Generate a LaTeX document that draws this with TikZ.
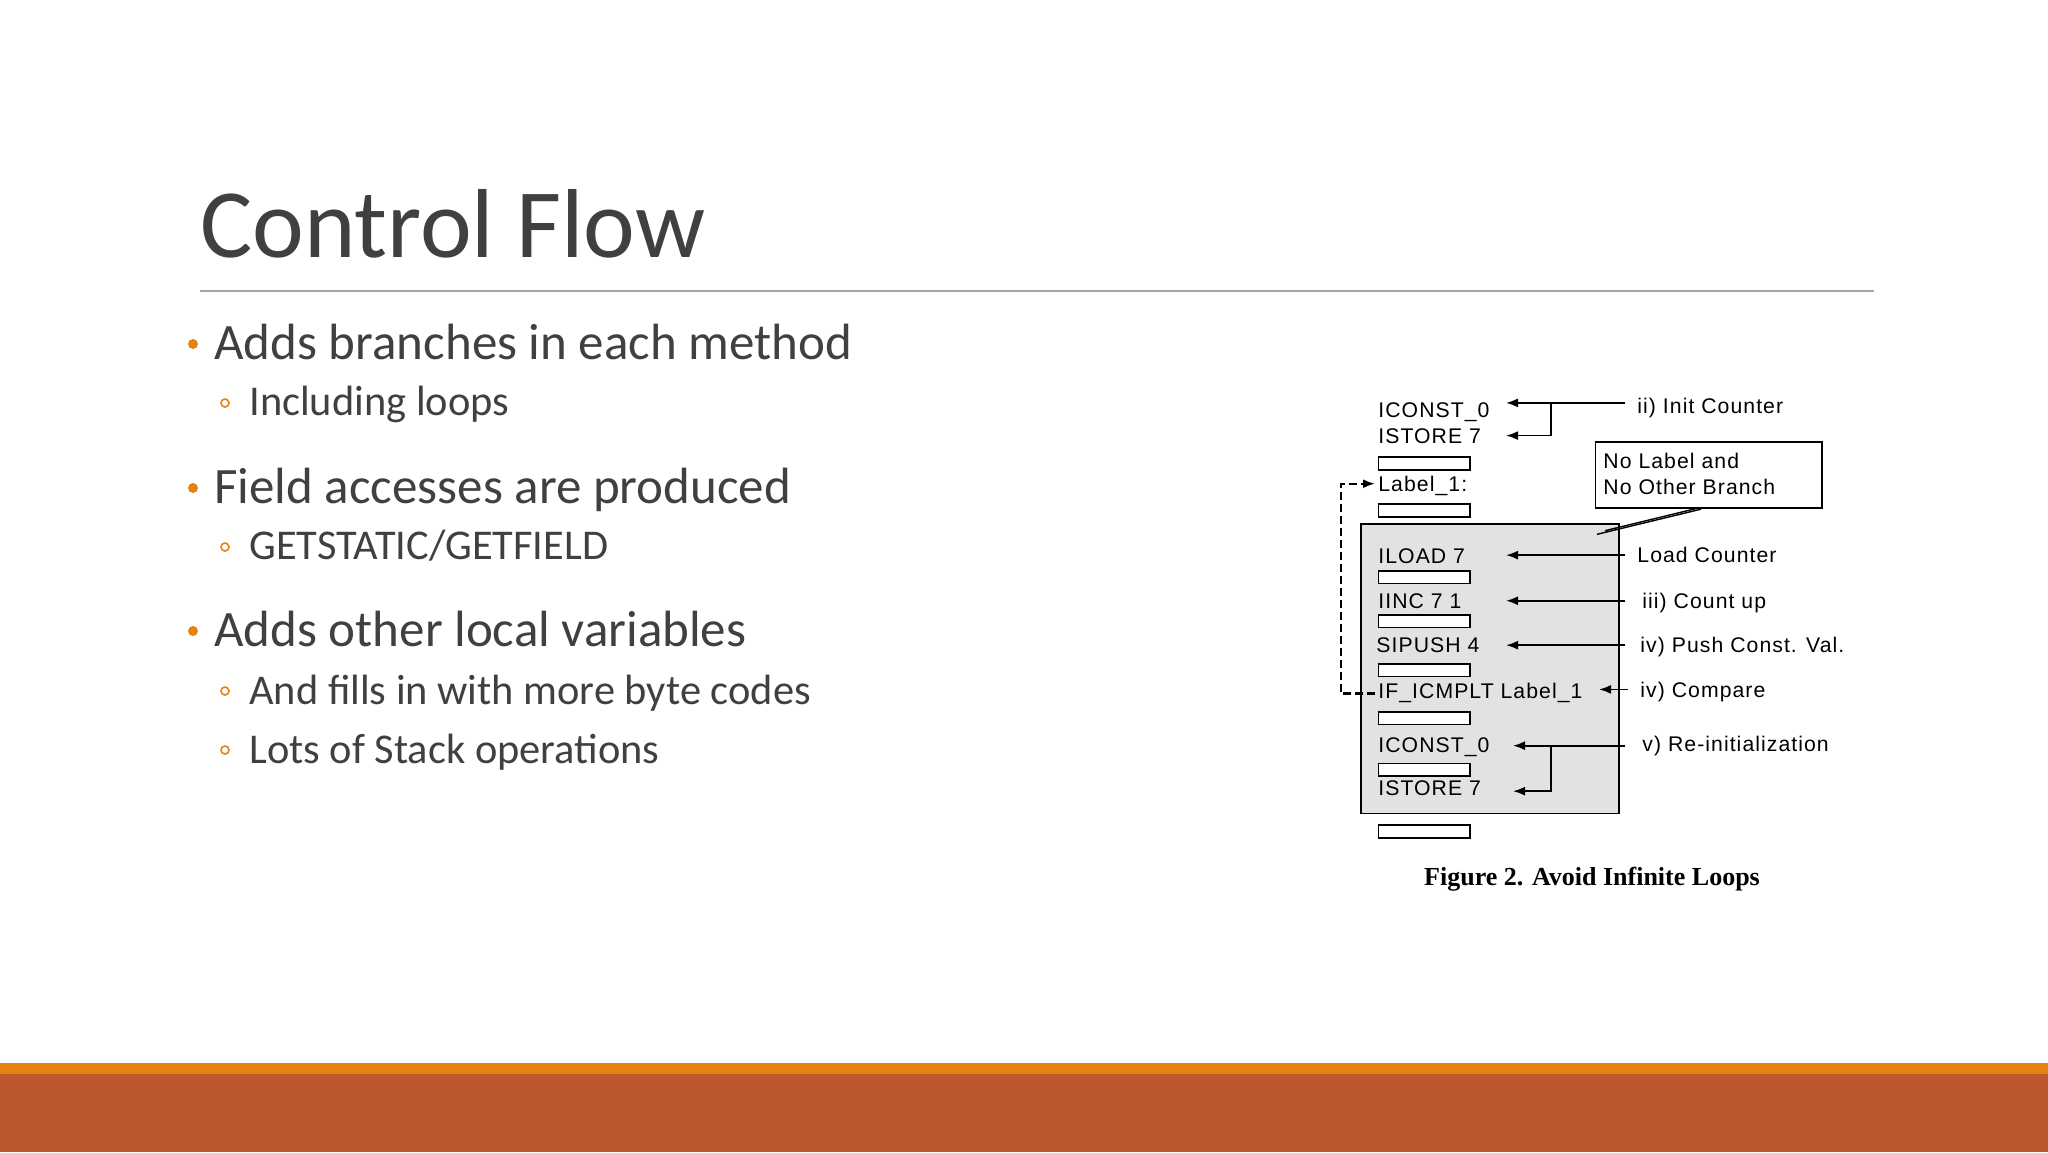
\documentclass[tikz,border=0pt]{standalone}
\usepackage{fontspec}
\setmainfont{Carlito}
\newfontfamily\figfont[LetterSpace=5]{Liberation Sans}
\newfontfamily\capfont{Liberation Serif}
\usetikzlibrary{arrows.meta}
\definecolor{txt}{HTML}{404040}
\definecolor{orng}{HTML}{E48312}
\definecolor{dorng}{HTML}{BD582C}
\definecolor{boxgray}{HTML}{E2E2E2}
\tikzset{
  bul/.style={anchor=base west,text=txt,font=\fontsize{25.5}{30}\selectfont,inner sep=0pt},
  sub/.style={anchor=base west,text=txt,font=\fontsize{21.2}{25}\selectfont,inner sep=0pt},
  code/.style={anchor=base west,font=\figfont\fontsize{10.6}{12}\selectfont,inner sep=0pt},
  slot/.style={draw,line width=0.9pt,fill=white},
  arr/.style={line width=0.9pt,-{Latex[length=6pt,width=4.5pt]}},
  ln/.style={line width=0.9pt}
}
\begin{document}
\begin{tikzpicture}[x=0.5pt,y=-0.5pt]
\useasboundingbox (0,0) rectangle (2048,1152);
\fill[white] (0,0) rectangle (2048,1152);
% title
\node[anchor=base west,text=txt,inner sep=0pt,font=\fontsize{49}{56}\selectfont] (title) at (200,257) {Control Flow};
\draw[gray!70,line width=0.7pt] (200,291) -- (1874,291);
% bullets
\foreach \y in {344,488,631} \fill[orng] (193,\y) circle (5);
\foreach \y in {403,547,691,750} \draw[orng,line width=0.8pt] (225,\y) circle (4);
\node[bul] (b1) at (214,359) {Adds branches in each method};
\node[sub] (s1) at (249,415) {Including loops};
\node[bul] (b2) at (214,503) {Field accesses are produced};
\node[sub] (s2) at (249,559) {GETSTATIC/GETFIELD};
\node[bul] (b3) at (214,646) {Adds other local variables};
\node[sub] (s3) at (249,704) {And fills in with more byte codes};
\node[sub] (s4) at (249,763) {Lots of Stack operations};
% bottom bars
\fill[orng] (0,1063) rectangle (2048,1074);
\fill[dorng] (0,1074) rectangle (2048,1152);
% figure
\begin{scope}[shift={(0,8.17)},yscale=0.9785]
\draw[ln,fill=boxgray] (1361,527) rectangle (1619,823);
\foreach \y in {459,507,575,620,670,719,772,835} \draw[slot] (1378.5,\y) rectangle (1470,\y+13);
\node[code] (c1) at (1378,418) {ICONST\_0};
\node[code] (c2) at (1378,445) {ISTORE 7};
\node[code] (lab) at (1378,494) {Label\_1:};
\node[code] (c3) at (1378,568) {ILOAD 7};
\node[code] (c4) at (1378,613) {IINC 7 1};
\node[code] (c5) at (1376,658) {SIPUSH 4};
\node[code] (c6) at (1378,705) {IF\_ICMPLT Label\_1};
\node[code] (c7) at (1378,761) {ICONST\_0};
\node[code] (c8) at (1378,805) {ISTORE 7};
\node[code] (l1) at (1637,414) {ii) Init Counter};
\node[code] (l2) at (1637,567) {Load Counter};
\node[code] (l3) at (1642,613) {iii) Count up};
\node[code] (l4) at (1640,658) {iv) Push Const. Val.};
\node[code] (l5) at (1640,704) {iv) Compare};
\node[code] (l6) at (1642,760) {v) Re-initialization};
\draw[ln,fill=white] (1595.5,443.7) rectangle (1822,510.9);
\node[code] (n1) at (1603,470) {No Label and};
\node[code] (n2) at (1603,497) {No Other Branch};
\draw[ln] (1625,403.4) -- (1550.7,403.4);
\draw[arr] (1550.7,403.4) -- (1506,403.4);
\draw[arr] (1550.7,403.4) |- (1506,436.8);
\draw[arr] (1625,559) -- (1506,559);
\draw[arr] (1625,605.6) -- (1506,605.6);
\draw[arr] (1625,651) -- (1506,651);
\draw[arr] (1628,696.2) -- (1599,696.2);
\draw[ln] (1625,753.7) -- (1550.7,753.7);
\draw[arr] (1550.7,753.7) -- (1513,753.7);
\draw[arr] (1550.7,753.7) |- (1513,800.2);
\draw[line width=0.7pt] (1698,510.9) -- (1605,534);
\draw[line width=0.7pt] (1701,512) -- (1597,537.7);
\draw[line width=1.1pt,dash pattern=on 4pt off 2pt,-{Latex[length=6pt,width=4.5pt]}] (1375,700.3) -- (1340.7,700.3) -- (1340.7,486) -- (1375,486);
\node[anchor=base,inner sep=0pt,font=\capfont\bfseries\fontsize{13}{15}\selectfont] (cap) at (1592,896.6) {Figure 2. Avoid Infinite Loops};
\end{scope}
\end{tikzpicture}
\end{document}
